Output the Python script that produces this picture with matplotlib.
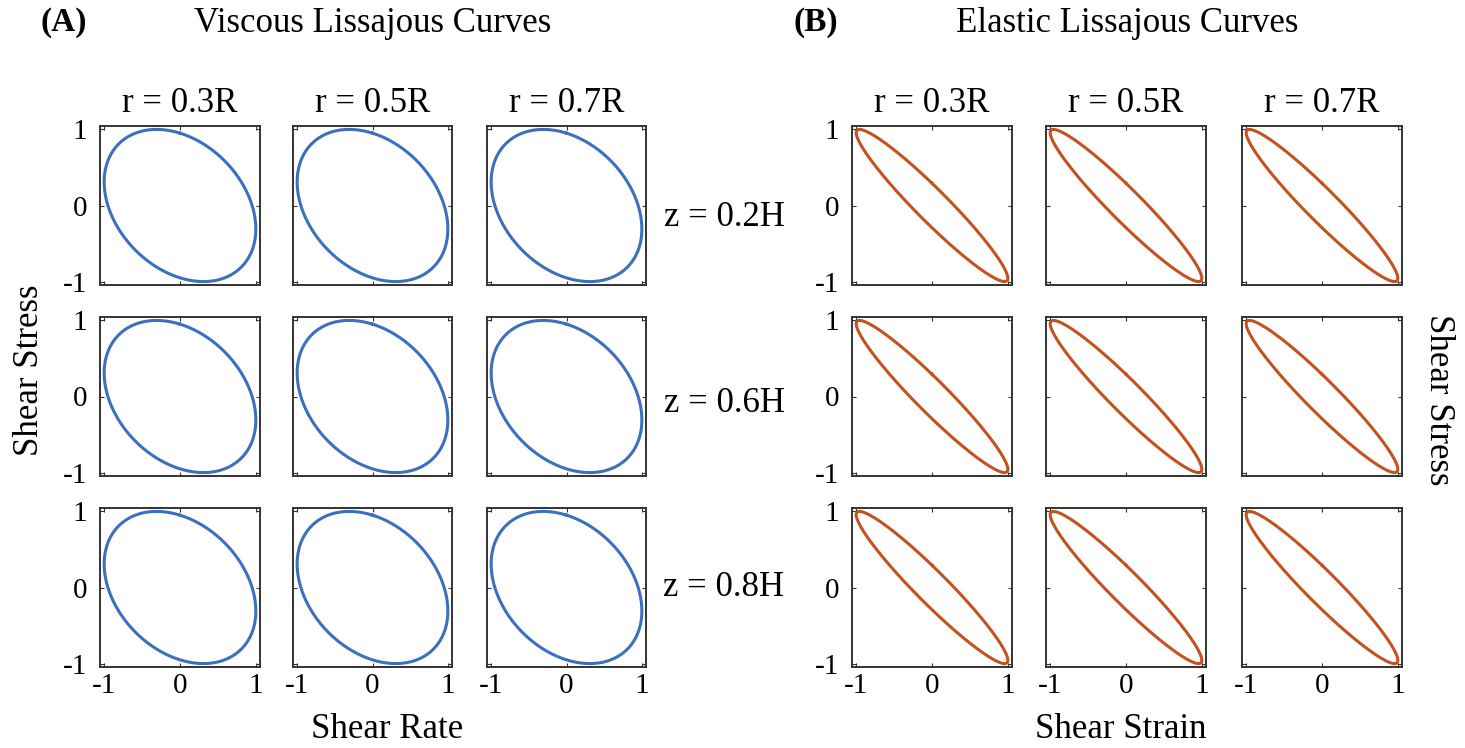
import numpy as np
import matplotlib
matplotlib.use('Agg')
import matplotlib.pyplot as plt

plt.rcParams['font.family'] = ['Liberation Serif', 'DejaVu Serif']
plt.rcParams['axes.unicode_minus'] = False

# column / row labels
col_labels = ['r = 0.3R', 'r = 0.5R', 'r = 0.7R']
row_labels = ['z = 0.2H', 'z = 0.6H', 'z = 0.8H']
tick_vals = [-1, 0, 1]
tick_text = ['-1', '0', '1']

# phase lag (degrees) between normalised stress and rate / strain, per panel (rows = z, cols = r)
viscous_phase = [[108, 108, 108],
                 [108, 108, 108],
                 [108, 108, 108]]
elastic_phase = [[163, 163, 163],
                 [163, 163, 163],
                 [163, 163, 163]]

W, H = 1465, 748
fig = plt.figure(figsize=(W / 100, H / 100), dpi=100)

def px_axes(x0, y0, x1, y1):
    return fig.add_axes([x0 / W, 1 - y1 / H, (x1 - x0) / W, (y1 - y0) / H])

left_cols = [(100, 260), (293, 452), (487, 646)]
right_cols = [(852, 1012), (1046, 1206), (1242, 1402)]
rows = [(126, 285), (317, 476), (508, 667)]

t = np.linspace(0, 2 * np.pi, 400)

def draw_grid(cols, phases, color):
    for i, (y0, y1) in enumerate(rows):
        for j, (x0, x1) in enumerate(cols):
            ax = px_axes(x0, y0, x1, y1)
            phi = np.deg2rad(phases[i][j])
            ax.plot(np.sin(t), np.sin(t + phi), color=color, lw=2.2)
            ax.set_xlim(-1.055, 1.055)
            ax.set_ylim(-1.045, 1.045)
            ax.set_xticks(tick_vals)
            ax.set_yticks(tick_vals)
            ax.tick_params(direction='in', length=3, width=0.8, top=True, right=True,
                           labelsize=21, colors='#333333', labelcolor='black')
            ax.tick_params(axis='y', pad=9)
            ax.tick_params(axis='x', pad=4)
            if j == 0:
                ax.set_yticklabels(tick_text)
            else:
                ax.set_yticklabels([])
            if i == 2:
                ax.set_xticklabels(tick_text)
            else:
                ax.set_xticklabels([])
            for s in ax.spines.values():
                s.set_linewidth(1.4)
                s.set_color('#333333')

draw_grid(left_cols, viscous_phase, '#3d6fbf')
draw_grid(right_cols, elastic_phase, '#c2521e')

def px_text(x, y, s, **kw):
    fig.text(x / W, 1 - y / H, s, ha='center', va='center', **kw)

# panel titles
px_text(64, 22, '(A)', fontsize=24, fontweight='bold')
px_text(373, 24, 'Viscous Lissajous Curves', fontsize=25)
px_text(816, 22, '(B)', fontsize=24, fontweight='bold')
px_text(1127, 24, 'Elastic Lissajous Curves', fontsize=25)

# column headers
for (x0, x1), lab in zip(left_cols, col_labels):
    px_text((x0 + x1) / 2, 104, lab, fontsize=25)
for (x0, x1), lab in zip(right_cols, col_labels):
    px_text((x0 + x1) / 2, 104, lab, fontsize=25)

# row labels
for (y0, y1), lab, dy in zip(rows, row_labels, [12, 7, 0]):
    px_text(724, (y0 + y1) / 2 + dy, lab, fontsize=25)

# axis labels
px_text(30, 370, 'Shear Stress', fontsize=25, rotation=90)
px_text(1438, 400, 'Shear Stress', fontsize=25, rotation=-90)
px_text(387, 730, 'Shear Rate', fontsize=25)
px_text(1121, 730, 'Shear Strain', fontsize=25)

fig.savefig('out.png', dpi=100)
